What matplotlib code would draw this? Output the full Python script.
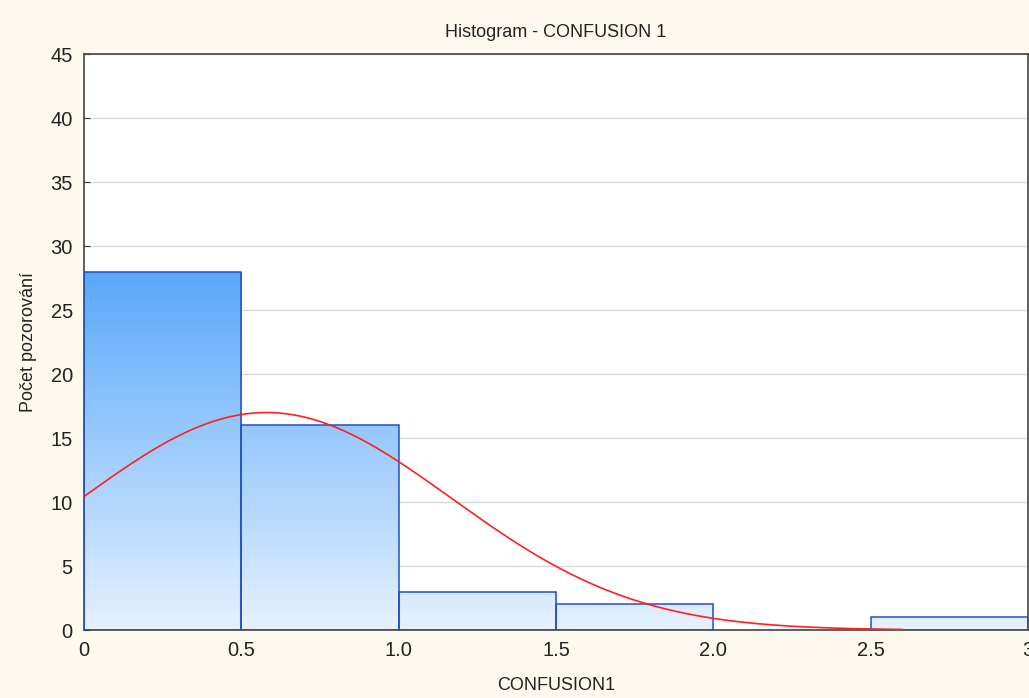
import numpy as np
import matplotlib
matplotlib.use("Agg")
import matplotlib.pyplot as plt
from matplotlib.colors import LinearSegmentedColormap

# histogram data
bin_edges = [0.0, 0.5, 1.0, 1.5, 2.0, 2.5, 3.0]
counts = [28, 16, 3, 2, 0, 1]

# fitted normal curve parameters
fit_mean = 0.58
fit_std = 0.587
n_obs = sum(counts)
curve_end = 2.6

xticks = [0, 0.5, 1.0, 1.5, 2.0, 2.5, 3.0]
xtick_labels = ["0", "0.5", "1.0", "1.5", "2.0", "2.5", "3"]
yticks = [0, 5, 10, 15, 20, 25, 30, 35, 40, 45]

plt.rcParams['font.family'] = ['Liberation Sans', 'DejaVu Sans']

fig = plt.figure(figsize=(10.29, 6.98), dpi=100, facecolor='#fdf9ef')
ax = fig.add_axes([0.0816, 0.0974, 0.9175, 0.8252])
ax.set_facecolor('white')

cmap = LinearSegmentedColormap.from_list('grad', ['#e6f1fe', '#58a8fa'])
grad = np.linspace(0, 1, 256).reshape(-1, 1)
top_val = max(counts)

for i, c in enumerate(counts):
    if c <= 0:
        continue
    x0, x1 = bin_edges[i], bin_edges[i + 1]
    rect = plt.Rectangle((x0, 0), x1 - x0, c, facecolor='none',
                         edgecolor='#1f4fc4', linewidth=1.1, zorder=3)
    ax.add_patch(rect)
    img = ax.imshow(grad, extent=[bin_edges[0], bin_edges[-1], 0, top_val],
                    origin='lower', cmap=cmap, aspect='auto', zorder=2)
    img.set_clip_path(rect)

xs = np.linspace(bin_edges[0], curve_end, 300)
width = bin_edges[1] - bin_edges[0]
ys = n_obs * width / (fit_std * np.sqrt(2 * np.pi)) * np.exp(-(xs - fit_mean) ** 2 / (2 * fit_std ** 2))
ax.plot(xs, ys, color='#ff2020', linewidth=1.2, zorder=4)

ax.set_xlim(0, 3)
ax.set_ylim(0, 45)
ax.set_xticks(xticks)
ax.set_xticklabels(xtick_labels)
ax.set_yticks(yticks)
ax.yaxis.grid(True, color='#d9d9d9', linewidth=1.0, zorder=0)
ax.set_axisbelow(True)
ax.tick_params(direction='in', length=4, labelsize=14.5, colors='#333333',
               labelcolor='#222222', pad=8)
for s in ax.spines.values():
    s.set_color('#444444')
    s.set_linewidth(1.2)

ax.set_title('Histogram - CONFUSION 1', fontsize=13, pad=12, color='#222222')
ax.set_xlabel('CONFUSION1', fontsize=13, labelpad=12, color='#222222')
ax.set_ylabel('Počet pozorování', fontsize=13, labelpad=10, color='#222222')

fig.savefig('out.png', dpi=100, facecolor=fig.get_facecolor())
